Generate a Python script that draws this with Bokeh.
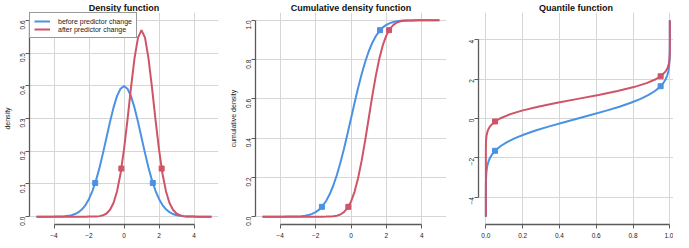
import math
from bokeh.plotting import figure
from bokeh.layouts import row
from bokeh.models import Range1d, FixedTicker, Legend, LegendItem, CustomJSTickFormatter
from bokeh.embed import file_html
from bokeh.resources import INLINE

# ---- data ----
x_grid = [round(-5 + 0.2 * i, 1) for i in range(51)]

dens_before = [0, 0, 0, 0, 0, 0.0001, 0.0003, 0.0006, 0.0012, 0.0024, 0.0044,
               0.0079, 0.0136, 0.0224, 0.0355, 0.0540, 0.0790, 0.1109, 0.1497, 0.1942,
               0.2420, 0.2897, 0.3332, 0.3683, 0.3910, 0.3989, 0.3910, 0.3683, 0.3332,
               0.2897, 0.2420, 0.1942, 0.1497, 0.1109, 0.0790, 0.0540, 0.0355, 0.0224,
               0.0136, 0.0079, 0.0044, 0.0024, 0.0012, 0.0006, 0.0003, 0.0001, 0, 0, 0, 0, 0]
dens_after = [0] * 15 + [0.0001, 0.0002, 0.0006, 0.0016, 0.0041, 0.0096, 0.0209, 0.0418,
              0.0771, 0.1311, 0.2054, 0.2966, 0.3947, 0.4840, 0.5471, 0.5699, 0.5471,
              0.4840, 0.3947, 0.2966, 0.2054, 0.1311, 0.0771, 0.0418, 0.0209, 0.0096,
              0.0041, 0.0016, 0.0006, 0.0002, 0.0001] + [0] * 5

cdf_before = [0, 0, 0, 0, 0, 0, 0.0001, 0.0002, 0.0003, 0.0007, 0.0013, 0.0026, 0.0047,
              0.0082, 0.0139, 0.0228, 0.0359, 0.0548, 0.0808, 0.1151, 0.1587, 0.2119,
              0.2743, 0.3446, 0.4207, 0.5, 0.5793, 0.6554, 0.7257, 0.7881, 0.8413,
              0.8849, 0.9192, 0.9452, 0.9641, 0.9772, 0.9861, 0.9918, 0.9953, 0.9974,
              0.9987, 0.9993, 0.9997, 0.9998, 0.9999, 1, 1, 1, 1, 1, 1]
cdf_after = [0] * 17 + [0.0001, 0.0003, 0.0008, 0.0021, 0.0051, 0.0111, 0.0228, 0.0432,
             0.0766, 0.1265, 0.1957, 0.2839, 0.3875, 0.5, 0.6125, 0.7161, 0.8043,
             0.8735, 0.9234, 0.9568, 0.9772, 0.9889, 0.9949, 0.9979, 0.9992, 0.9997,
             0.9999] + [1] * 7

marker_probs = [0.05, 0.95]
marker_x_before = [-1.645, 1.645]
marker_x_after = [-0.151, 2.151]
marker_d_before = [0.103, 0.103]
marker_d_after = [0.147, 0.147]

titles = ["Density function", "Cumulative density function", "Quantile function"]
ylabels = ["density", "cumulative density", ""]
legend_labels = ["before predictor change", "after predictor change"]

BLUE = "#4A92E3"
RED = "#CF5468"
FONT = "Liberation Sans"
H = 240
LW = 2
MS = 5


def style(p, xticks, yticks, xb, yb):
    p.title.text_font = FONT
    p.title.text_font_size = "9px"
    p.title.text_font_style = "bold"
    p.title.text_color = "#111111"
    p.title.align = "center"
    p.title.standoff = 0
    p.title.offset = 0
    p.outline_line_color = None
    p.xgrid.ticker = FixedTicker(ticks=xticks)
    p.ygrid.ticker = FixedTicker(ticks=yticks)
    p.xaxis.ticker = FixedTicker(ticks=xticks)
    p.yaxis.ticker = FixedTicker(ticks=yticks)
    for g in (p.xgrid, p.ygrid):
        g.grid_line_color = "#D6D6D6"
        g.grid_line_width = 1
    p.xaxis.bounds = xb
    p.yaxis.bounds = yb
    for ax in (p.xaxis, p.yaxis):
        ax.axis_line_color = "#5A5A5A"
        ax.axis_line_width = 1.3
        ax.major_tick_line_color = "#5A5A5A"
        ax.major_tick_out = 4
        ax.major_tick_in = 0
        ax.minor_tick_line_color = None
        ax.major_label_text_font = FONT
        ax.major_label_text_font_size = "6.5px"
        ax.major_label_text_color = "#222222"
        ax.axis_label_text_font = FONT
        ax.axis_label_text_font_size = "7px"
        ax.axis_label_text_font_style = "normal"
        ax.axis_label_text_color = "#222222"
        ax.axis_label_standoff = 4
    p.xaxis.axis_label_standoff = 0
    p.xaxis.major_label_standoff = 4
    p.yaxis.major_label_standoff = 3
    p.yaxis.major_label_orientation = math.pi / 2


common = dict(height=H, output_backend="svg", toolbar_location=None,
              min_border_top=0, min_border_bottom=0)

# ---- density ----
p1 = figure(width=226, title=titles[0], x_range=Range1d(-5.4, 5.4),
            y_range=Range1d(-0.024, 0.624), min_border_left=22, min_border_right=8, **common)
style(p1, [-4, -2, 0, 2, 4], [0, 0.1, 0.2, 0.3, 0.4, 0.5, 0.6], (-4, 4), (0, 0.6))
p1.yaxis.axis_label = ylabels[0]
p1.yaxis.formatter = CustomJSTickFormatter(code="return tick.toFixed(1)")
p1.xaxis.formatter = CustomJSTickFormatter(code="return tick < 0 ? '\u2212' + (-tick) : '' + tick")
r1 = p1.line(x_grid, dens_before, line_color=BLUE, line_width=LW)
r2 = p1.line(x_grid, dens_after, line_color=RED, line_width=LW)
p1.scatter(marker_x_before, marker_d_before, marker="square", size=MS, color=BLUE)
p1.scatter(marker_x_after, marker_d_after, marker="square", size=MS, color=RED)
leg = Legend(items=[LegendItem(label=legend_labels[0], renderers=[r1]),
                    LegendItem(label=legend_labels[1], renderers=[r2])],
             location="top_left", margin=0, padding=4, spacing=0,
             glyph_height=8, glyph_width=16, label_height=8, label_standoff=8,
             label_text_font=FONT, label_text_font_size="7px", label_text_color="#222222",
             label_text_baseline="middle",
             border_line_color="#333333", border_line_width=1, background_fill_alpha=1)
p1.add_layout(leg)

# ---- CDF ----
p2 = figure(width=228, title=titles[1], x_range=Range1d(-5.4, 5.4),
            y_range=Range1d(-0.04, 1.04), min_border_left=24, min_border_right=8, **common)
style(p2, [-4, -2, 0, 2, 4], [0, 0.2, 0.4, 0.6, 0.8, 1.0], (-4, 4), (0, 1))
p2.yaxis.axis_label = ylabels[1]
p2.yaxis.formatter = CustomJSTickFormatter(code="return tick.toFixed(1)")
p2.xaxis.formatter = CustomJSTickFormatter(code="return tick < 0 ? '\u2212' + (-tick) : '' + tick")
p2.line(x_grid, cdf_before, line_color=BLUE, line_width=LW)
p2.line(x_grid, cdf_after, line_color=RED, line_width=LW)
p2.scatter(marker_x_before, marker_probs, marker="square", size=MS, color=BLUE)
p2.scatter(marker_x_after, marker_probs, marker="square", size=MS, color=RED)

# ---- quantile ----
p3 = figure(width=219, title=titles[2], x_range=Range1d(-0.04, 1.02),
            y_range=Range1d(-5.4, 5.4), min_border_left=24, min_border_right=0, **common)
style(p3, [0, 0.2, 0.4, 0.6, 0.8, 1.0], [-4, -2, 0, 2, 4], (0, 1), (-4, 4))
p3.xaxis.formatter = CustomJSTickFormatter(code="return tick.toFixed(1)")
p3.yaxis.formatter = CustomJSTickFormatter(code="return tick < 0 ? '\u2212' + (-tick) : '' + tick")
p3.line(cdf_before, x_grid, line_color=BLUE, line_width=LW)
p3.line(cdf_after, x_grid, line_color=RED, line_width=LW)
p3.scatter(marker_probs, marker_x_before, marker="square", size=MS, color=BLUE)
p3.scatter(marker_probs, marker_x_after, marker="square", size=MS, color=RED)

layout = row(p1, p2, p3)
open("out.html", "w").write(file_html(layout, INLINE))
